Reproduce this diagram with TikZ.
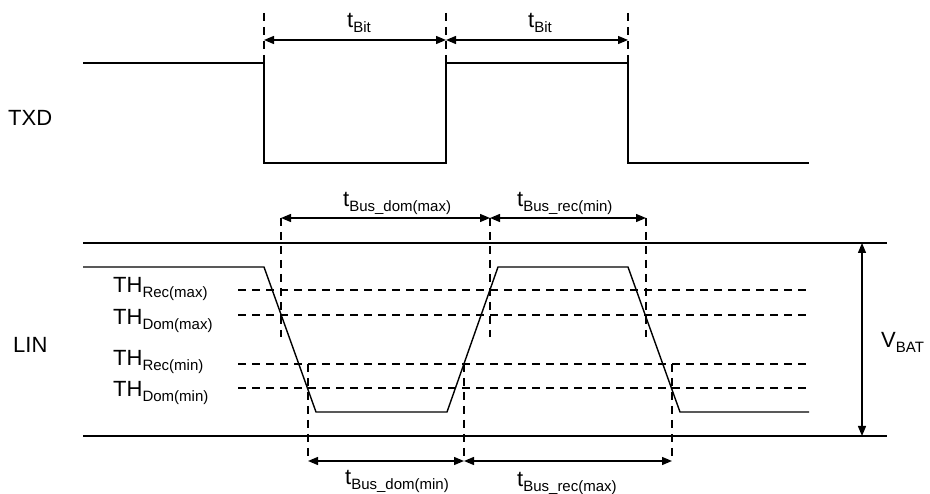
\documentclass[tikz,border=0pt]{standalone}
\usepackage{fontspec}
\setmainfont{Liberation Sans}
\usetikzlibrary{arrows.meta}
\newcommand\lab[2]{{\fontsize{22}{22}\selectfont #1}\raisebox{-5pt}{\fontsize{15}{15}\selectfont #2}}
\tikzset{
  wave/.style={line width=1.4pt, line join=miter},
  rail/.style={line width=1.4pt},
  dsh/.style={line width=1.1pt, dash pattern=on 8pt off 6pt},
  dim/.style={line width=1.3pt, {Triangle[length=10pt,width=8pt]}-{Triangle[length=10pt,width=8pt]}},
  lbl/.style={inner sep=0pt, anchor=base west},
}
\begin{document}
\begin{tikzpicture}[x=1pt,y=-1pt]
\useasboundingbox (0,0) rectangle (930,494);
% ---- TXD ----
\draw[wave] (83,63) -- (264,63) -- (264,163) -- (446,163) -- (446,63) -- (628,63) -- (628,163) -- (809,163);
\coordinate (b1t) at (264,13); \coordinate (b1b) at (264,63);
\coordinate (b2t) at (446,13); \coordinate (b2b) at (446,63);
\coordinate (b3t) at (628,13); \coordinate (b3b) at (628,63);
\draw[dsh] (b1t) -- (b1b);
\draw[dsh] (b2t) -- (b2b);
\draw[dsh] (b3t) -- (b3b);
\coordinate (a1) at (264,40); \coordinate (a2) at (446,40); \coordinate (a3) at (628,40);
\draw[dim] (a1) -- (a2);
\draw[dim] (a2) -- (a3);
\node[lbl] (tbit1) at (347,28) {\lab{t}{Bit}};
\node[lbl] (tbit2) at (528,28) {\lab{t}{Bit}};
\node[lbl] (txd) at (8,126) {\fontsize{22}{22}\selectfont TXD};
% ---- LIN ----
\draw[rail] (83,243) -- (887,243);
\draw[rail] (83,436) -- (887,436);
\draw[wave] (83,267) -- (264,267) -- (316,412) -- (447,412) -- (498,267) -- (628,267) -- (680,412) -- (809,412);
% thresholds
\draw[dsh] (238,290) -- (807,290);
\draw[dsh] (238,315) -- (807,315);
\draw[dsh] (238,364) -- (807,364);
\draw[dsh] (238,388) -- (807,388);
\node[lbl] (threcmax) at (113,293) {\lab{TH}{Rec(max)}};
\node[lbl] (thdommax) at (113,325) {\lab{TH}{Dom(max)}};
\node[lbl] (threcmin) at (113,366) {\lab{TH}{Rec(min)}};
\node[lbl] (thdommin) at (113,397) {\lab{TH}{Dom(min)}};
\node[lbl] (lin) at (13,353) {\fontsize{22}{22}\selectfont LIN};
% upper timing
\coordinate (u1t) at (281,218); \coordinate (u1b) at (281,337);
\coordinate (u2t) at (490,218); \coordinate (u2b) at (490,337);
\coordinate (u3t) at (646,218); \coordinate (u3b) at (646,337);
\draw[dsh] (u1t) -- (u1b);
\draw[dsh] (u2t) -- (u2b);
\draw[dsh] (u3t) -- (u3b);
\draw[dim] (u1t) -- (u2t);
\draw[dim] (u2t) -- (u3t);
\node[lbl] (tdommax) at (343,207) {\lab{t}{Bus\_dom(max)}};
\node[lbl] (trecmin) at (517,207) {\lab{t}{Bus\_rec(min)}};
% lower timing
\coordinate (l1t) at (308,364); \coordinate (l1b) at (308,461);
\coordinate (l2t) at (464,364); \coordinate (l2b) at (464,461);
\coordinate (l3t) at (672,364); \coordinate (l3b) at (672,461);
\draw[dsh] (l1t) -- (l1b);
\draw[dsh] (l2t) -- (l2b);
\draw[dsh] (l3t) -- (l3b);
\draw[dim] (l1b) -- (l2b);
\draw[dim] (l2b) -- (l3b);
\node[lbl] (tdommin) at (345,485) {\lab{t}{Bus\_dom(min)}};
\node[lbl] (trecmax) at (517,486) {\lab{t}{Bus\_rec(max)}};
% VBAT
\coordinate (vt) at (862,243); \coordinate (vb) at (862,436);
\draw[dim] (vt) -- (vb);
\node[lbl] (vbat) at (881,348) {\lab{V}{BAT}};
\end{tikzpicture}
\end{document}
